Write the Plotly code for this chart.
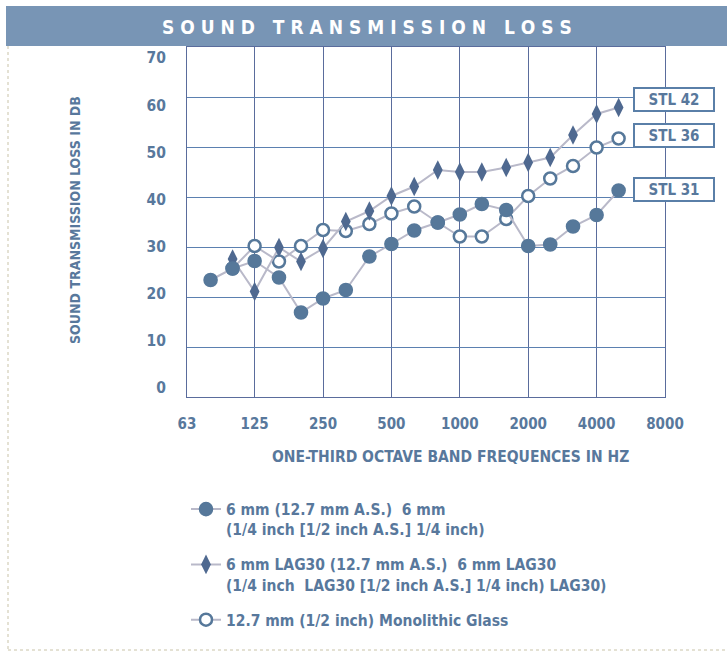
import plotly.graph_objects as go

# One-third octave band centre frequencies (Hz)
freqs = [80, 100, 125, 160, 200, 250, 315, 400, 500, 630, 800,
         1000, 1250, 1600, 2000, 2500, 3150, 4000, 5000]

# Sound transmission loss (dB) per band
stl31_vals = [23.4, 25.7, 27.2, 23.9, 16.9, 19.7, 21.4, 28.1, 30.6, 33.3, 34.9,
              36.5, 38.6, 37.4, 30.2, 30.5, 34.1, 36.4, 41.3]
stl42_freqs = freqs[1:]
stl42_vals = [27.6, 21.1, 29.9, 27.1, 29.7, 35.1, 37.2, 40.2, 42.1, 45.4,
              45.0, 45.0, 45.9, 46.9, 47.9, 52.4, 56.6, 57.9]
stl36_freqs = freqs[1:]
stl36_vals = [25.7, 30.2, 27.1, 30.2, 33.4, 33.2, 34.6, 36.7, 38.1, 34.9,
              32.1, 32.1, 35.6, 40.2, 43.7, 46.2, 49.9, 51.7]

x_ticks = [63, 125, 250, 500, 1000, 2000, 4000, 8000]
y_ticks = [0, 10, 20, 30, 40, 50, 60, 70]

series_names = [
    "6 mm (12.7 mm A.S.)  6 mm<br>(1/4 inch [1/2 inch A.S.] 1/4 inch)",
    "6 mm LAG30 (12.7 mm A.S.)  6 mm LAG30<br>(1/4 inch  LAG30 [1/2 inch A.S.] 1/4 inch) LAG30)",
    "12.7 mm (1/2 inch) Monolithic Glass",
]
stl_labels = ["STL 42", "STL 36", "STL 31"]

FONT = "DejaVu Sans Condensed, Liberation Sans Narrow, sans-serif"
TXT = "#58789c"
LINE = "#b9b9c9"
MARK = "#56789a"
DIAM = "#4f6990"

W, H = 727, 655
PL, PR, PT, PB = 187, 665, 47, 397  # plot area in pixels


def px(x):
    return (x - PL) / (PR - PL)


def py(y):
    return (PB - y) / (PB - PT)


fig = go.Figure()

fig.add_trace(go.Scatter(
    x=stl36_freqs, y=stl36_vals, name=series_names[2], mode="lines+markers",
    legendrank=3, legendgroup="c",
    line=dict(color=LINE, width=2),
    marker=dict(symbol="circle", size=12, color="white",
                line=dict(color=MARK, width=2.5)),
))
fig.add_trace(go.Scatter(
    x=stl42_freqs, y=stl42_vals, name=series_names[1], mode="lines+markers",
    legendrank=2, legendgroup="b",
    line=dict(color=LINE, width=2),
    marker=dict(symbol="diamond-tall", size=14, color=DIAM,
                line=dict(width=0)),
))
fig.add_trace(go.Scatter(
    x=freqs, y=stl31_vals, name=series_names[0], mode="lines+markers",
    legendrank=1, legendgroup="a",
    line=dict(color=LINE, width=2),
    marker=dict(symbol="circle", size=13, color=MARK,
                line=dict(color=MARK, width=1.6)),
))
# carrier for the dB label axis (draws nothing)
fig.add_trace(go.Scatter(
    x=[freqs[0]] * len(y_ticks), y=y_ticks, yaxis="y2", mode="markers",
    marker=dict(opacity=0), showlegend=False, hoverinfo="skip",
))

shapes = [
    # title band
    dict(type="rect", xref="paper", yref="paper",
         x0=px(6), x1=px(727), y0=py(46), y1=py(6),
         fillcolor="#7895b5", line=dict(width=0), layer="above"),
    # page edge
    dict(type="line", xref="paper", yref="paper",
         x0=px(8), x1=px(8), y0=py(46), y1=py(650),
         line=dict(color="#c9c3a8", width=1, dash="dot")),
    dict(type="line", xref="paper", yref="paper",
         x0=px(8), x1=px(727), y0=py(650), y1=py(650),
         line=dict(color="#c9c3a8", width=1, dash="dot")),
]

annotations = [
    dict(text="S O U N D   T R A N S M I S S I O N   L O S S",
         xref="paper", yref="paper", x=px(367), y=py(27),
         xanchor="center", yanchor="middle",
         showarrow=False, font=dict(family=FONT, size=19, color="white", weight="bold")),
    dict(text="SOUND TRANSMISSION LOSS IN DB", textangle=-90,
         xref="paper", yref="paper", x=px(75), y=py(220),
         xanchor="center", yanchor="middle",
         showarrow=False, font=dict(family=FONT, size=14, color=TXT, weight="bold")),
    dict(text="ONE-THIRD OCTAVE BAND FREQUENCES IN HZ",
         xref="paper", yref="paper", x=px(450), y=py(457),
         xanchor="center", yanchor="middle",
         showarrow=False, font=dict(family=FONT, size=15.5, color=TXT, weight="bold")),
]

# STL rating boxes
box_centers = [99.5, 135, 189.5]
for label, cy in zip(stl_labels, box_centers):
    annotations.append(dict(
        text=label, xref="paper", yref="paper", x=px(674), y=py(cy),
        xanchor="center", yanchor="middle", showarrow=False,
        width=78, height=21, bgcolor="white", bordercolor="#5a7fa8",
        borderwidth=2, borderpad=0,
        font=dict(family=FONT, size=15, color=TXT, weight="bold")))

# value labels on the left sit on a slightly tighter scale than the grid
lab_top, lab_bot = 58, 388
per_px = 70 / (lab_bot - lab_top)
y2_range = [-(PB - lab_bot) * per_px, (lab_bot - PT) * per_px]

fig.update_layout(
    width=W, height=H,
    margin=dict(l=PL, r=W - PR, t=PT, b=H - PB),
    paper_bgcolor="white", plot_bgcolor="white",
    shapes=shapes, annotations=annotations,
    showlegend=True,
    legend=dict(x=px(186), y=py(492.5), xanchor="left", yanchor="top",
                valign="top", tracegroupgap=12, itemwidth=30,
                font=dict(family=FONT, size=15.5, color=TXT, weight="bold"),
                bgcolor="rgba(0,0,0,0)"),
    xaxis=dict(type="log", range=[1.7993, 3.9031],
               tickvals=x_ticks, ticktext=[str(v) for v in x_ticks],
               showgrid=True, gridcolor="#5a6c9c", gridwidth=1,
               showline=True, linecolor="#5a6c9c", linewidth=1, mirror=True,
               ticks="", ticklabelstandoff=13, zeroline=False,
               tickfont=dict(family=FONT, size=15, color=TXT, weight="bold")),
    yaxis=dict(range=[0, 70], tickvals=y_ticks, showticklabels=False,
               showgrid=True, gridcolor="#5b80b0", gridwidth=1,
               showline=True, linecolor="#5a6c9c", linewidth=1, mirror=True,
               ticks="", zeroline=False),
    yaxis2=dict(overlaying="y", side="left", range=y2_range,
                tickvals=y_ticks, showgrid=False, showline=False,
                zeroline=False, ticks="", ticklabelstandoff=20,
                tickfont=dict(family=FONT, size=15.5, color=TXT, weight="bold")),
)

fig.write_html("out.html")
